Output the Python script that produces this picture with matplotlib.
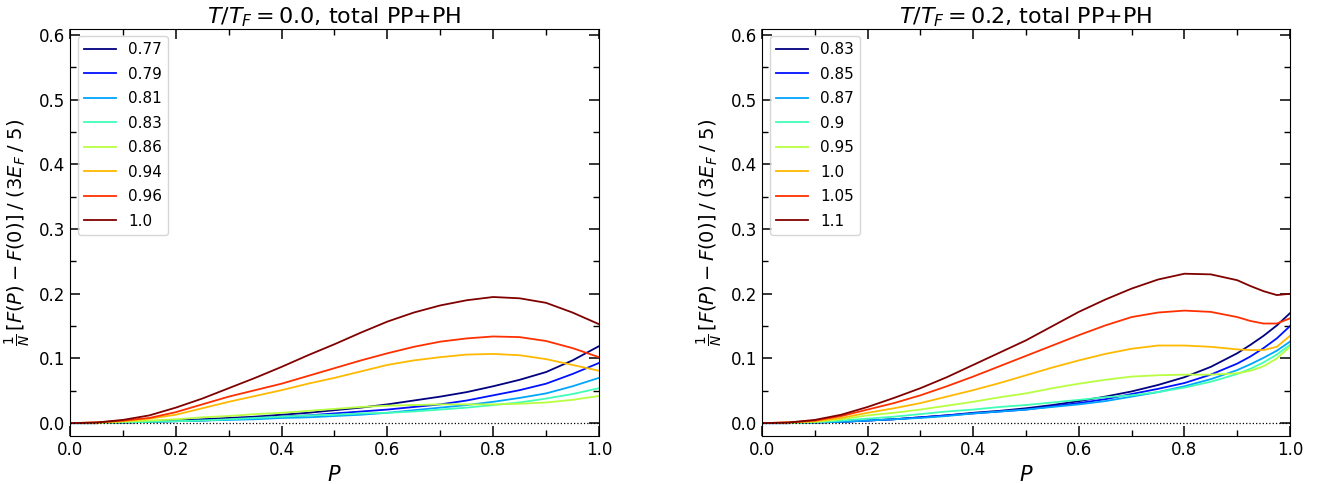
import numpy as np
import matplotlib
matplotlib.use("Agg")
import matplotlib.pyplot as plt
from matplotlib.ticker import MultipleLocator

# ---------------- data ----------------
P_left = [0.0, 0.05, 0.1, 0.15, 0.2, 0.25, 0.3, 0.35, 0.4, 0.45, 0.5,
          0.55, 0.6, 0.65, 0.7, 0.75, 0.8, 0.85, 0.9, 0.95, 1.0]
labels_left = ["0.77", "0.79", "0.81", "0.83", "0.86", "0.94", "0.96", "1.0"]
left_077 = [0, 0, 0.001, 0.002, 0.004, 0.006, 0.008, 0.010, 0.013, 0.016, 0.020,
            0.024, 0.029, 0.035, 0.041, 0.048, 0.057, 0.067, 0.079, 0.097, 0.119]
left_079 = [0, 0, 0.001, 0.002, 0.003, 0.004, 0.006, 0.008, 0.010, 0.012, 0.015,
            0.018, 0.021, 0.025, 0.029, 0.035, 0.043, 0.051, 0.061, 0.076, 0.093]
left_081 = [0, 0, 0.001, 0.002, 0.003, 0.004, 0.005, 0.006, 0.008, 0.009, 0.011,
            0.013, 0.016, 0.020, 0.024, 0.028, 0.033, 0.039, 0.046, 0.057, 0.070]
left_083 = [0, 0, 0.001, 0.002, 0.003, 0.004, 0.006, 0.008, 0.010, 0.012, 0.013,
            0.015, 0.016, 0.018, 0.021, 0.024, 0.028, 0.032, 0.038, 0.045, 0.054]
left_086 = [0, 0, 0.002, 0.004, 0.006, 0.009, 0.011, 0.014, 0.016, 0.019, 0.022,
            0.025, 0.027, 0.028, 0.029, 0.029, 0.029, 0.030, 0.032, 0.036, 0.042]
left_094 = [0, 0.001, 0.003, 0.007, 0.013, 0.023, 0.033, 0.042, 0.051, 0.061, 0.070,
            0.080, 0.090, 0.097, 0.102, 0.106, 0.107, 0.105, 0.099, 0.090, 0.081]
left_096 = [0, 0.001, 0.004, 0.008, 0.017, 0.029, 0.041, 0.051, 0.061, 0.073, 0.085,
            0.097, 0.108, 0.118, 0.126, 0.131, 0.134, 0.133, 0.127, 0.116, 0.102]
left_100 = [0, 0.001, 0.005, 0.012, 0.024, 0.038, 0.054, 0.070, 0.087, 0.105, 0.122,
            0.140, 0.157, 0.171, 0.182, 0.190, 0.195, 0.193, 0.186, 0.171, 0.153]

P_right = [0.0, 0.05, 0.1, 0.15, 0.2, 0.25, 0.3, 0.35, 0.4, 0.45, 0.5,
           0.55, 0.6, 0.65, 0.7, 0.75, 0.8, 0.85, 0.9, 0.925, 0.95, 0.975, 1.0]
labels_right = ["0.83", "0.85", "0.87", "0.9", "0.95", "1.0", "1.05", "1.1"]
right_083 = [0, 0, 0.001, 0.002, 0.004, 0.006, 0.009, 0.012, 0.016, 0.019, 0.023,
             0.028, 0.034, 0.041, 0.049, 0.059, 0.071, 0.087, 0.108, 0.121, 0.135, 0.151, 0.170]
right_085 = [0, 0, 0.001, 0.002, 0.004, 0.006, 0.009, 0.012, 0.015, 0.018, 0.021,
             0.026, 0.031, 0.037, 0.045, 0.053, 0.062, 0.075, 0.092, 0.103, 0.116, 0.131, 0.150]
right_087 = [0, 0, 0.001, 0.002, 0.004, 0.006, 0.008, 0.011, 0.015, 0.018, 0.021,
             0.025, 0.029, 0.034, 0.041, 0.048, 0.057, 0.068, 0.082, 0.091, 0.101, 0.112, 0.126]
right_090 = [0, 0, 0.001, 0.004, 0.007, 0.010, 0.014, 0.018, 0.021, 0.025, 0.028,
             0.032, 0.036, 0.040, 0.043, 0.048, 0.055, 0.064, 0.076, 0.084, 0.094, 0.106, 0.121]
right_095 = [0, 0.0005, 0.002, 0.006, 0.012, 0.016, 0.021, 0.027, 0.033, 0.040, 0.046,
             0.054, 0.061, 0.067, 0.072, 0.074, 0.075, 0.075, 0.077, 0.081, 0.088, 0.100, 0.118]
right_100 = [0, 0.001, 0.003, 0.008, 0.016, 0.023, 0.031, 0.041, 0.051, 0.062, 0.074,
             0.086, 0.097, 0.107, 0.115, 0.120, 0.120, 0.118, 0.114, 0.113, 0.113, 0.118, 0.135]
right_105 = [0, 0.001, 0.004, 0.011, 0.021, 0.031, 0.043, 0.057, 0.072, 0.088, 0.104,
             0.120, 0.136, 0.151, 0.164, 0.171, 0.174, 0.172, 0.164, 0.158, 0.154, 0.154, 0.162]
right_110 = [0, 0.001, 0.005, 0.013, 0.025, 0.039, 0.054, 0.071, 0.090, 0.109, 0.128,
             0.150, 0.172, 0.191, 0.208, 0.222, 0.231, 0.230, 0.221, 0.212, 0.204, 0.198, 0.200]

left_series = [left_077, left_079, left_081, left_083, left_086, left_094, left_096, left_100]
right_series = [right_083, right_085, right_087, right_090, right_095, right_100, right_105, right_110]
titles = [r"$T/T_F = 0.0$, total PP+PH", r"$T/T_F = 0.2$, total PP+PH"]

# ---------------- figure ----------------
fig = plt.figure(figsize=(13.19, 4.84), dpi=100)
ax1 = fig.add_axes([0.0531, 0.099, 0.401, 0.842])
ax2 = fig.add_axes([0.5777, 0.099, 0.4003, 0.842])

colors = plt.cm.jet(np.linspace(0, 1, 8))

for ax, P, series, labels, title in [(ax1, P_left, left_series, labels_left, titles[0]),
                                     (ax2, P_right, right_series, labels_right, titles[1])]:
    for s, lab, c in zip(series, labels, colors):
        ax.plot(P, s, color=c, lw=1.3, label=lab)
    ax.axhline(0.0, color="black", ls=":", lw=0.9)
    ax.set_xlim(0, 1)
    ax.set_ylim(-0.02, 0.61)
    ax.xaxis.set_major_locator(MultipleLocator(0.2))
    ax.xaxis.set_minor_locator(MultipleLocator(0.1))
    ax.yaxis.set_major_locator(MultipleLocator(0.1))
    ax.yaxis.set_minor_locator(MultipleLocator(0.05))
    ax.tick_params(which="both", direction="in", top=True, right=True, labelsize=12)
    ax.tick_params(which="major", length=7.5, width=1.1)
    ax.tick_params(which="minor", length=4.5, width=1.0)
    ax.set_xlabel(r"$P$", fontsize=15)
    ax.set_ylabel(r"$\frac{1}{N}\,[F(P) - F(0)]\;/\;(3E_F\;/\;5)$", fontsize=14)
    ax.set_title(title, fontsize=16, pad=3)
    ax.legend(loc="upper left", fontsize=11, handlelength=2.1, labelspacing=0.62)

fig.savefig("out.png", dpi=100)
